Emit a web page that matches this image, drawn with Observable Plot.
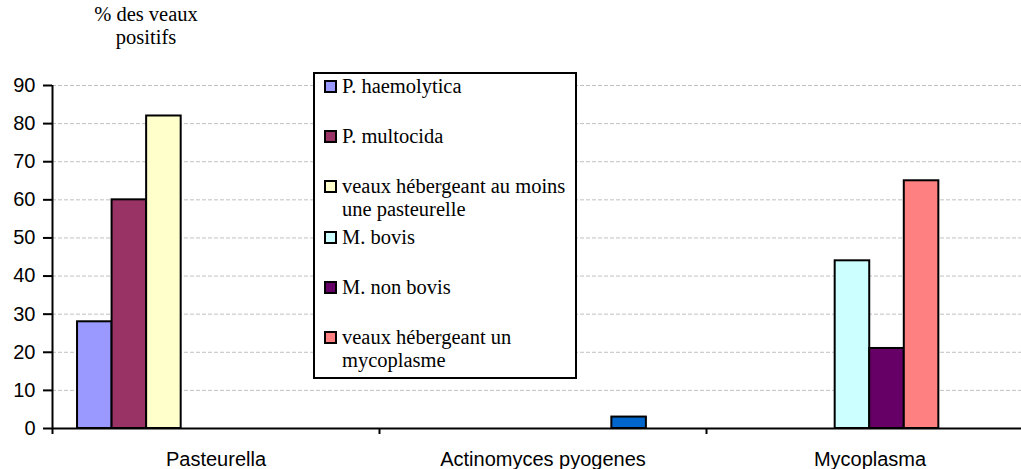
<!DOCTYPE html>
<html>
<head>
<meta charset="utf-8">
<script src="https://cdn.jsdelivr.net/npm/d3@7"></script>
<script src="https://cdn.jsdelivr.net/npm/@observablehq/plot@0.6"></script>
<style>
  html, body { margin: 0; padding: 0; background: #fff; overflow: hidden; }
  #wrap { position: relative; width: 1021px; height: 469px; overflow: hidden; }
  #title { position: absolute; left: 46px; top: 3px; width: 200px; text-align: center;
    font-family: "Liberation Serif", "Times New Roman", "DejaVu Serif", serif; font-size: 20.5px; line-height: 23px; color: #000; }
  #chart { position: absolute; left: 0; top: 55px; }
  #legend { position: absolute; left: 313px; top: 72px; width: 264px; height: 307px; box-sizing: border-box;
    border: 2px solid #000; background: #fff;
    font-family: "Liberation Serif", "Times New Roman", "DejaVu Serif", serif; font-size: 20.5px; line-height: 22.5px; color: #000; }
  .entry { position: absolute; left: 9px; width: 250px; display: flex; align-items: flex-start; }
  .sw { flex: none; width: 13px; height: 13px; box-sizing: border-box; border: 2px solid #000; margin-top: 5px; margin-right: 5px; }
  .lab { width: 232px; }
</style>
</head>
<body>
<div id="wrap">
  <div id="title">% des veaux<br>positifs</div>
  <div id="chart"></div>
  <div id="legend"></div>
</div>
<script>
// ---- data ----
const categories = ["Pasteurella", "Actinomyces pyogenes", "Mycoplasma"];
const seriesNames = [
  "P. haemolytica",
  "P. multocida",
  "veaux hébergeant au moins une pasteurelle",
  "M. bovis",
  "M. non bovis",
  "veaux hébergeant un mycoplasme",
  "A. pyogenes"
];
const seriesColors = ["#9999FF", "#993366", "#FFFFCC", "#CCFFFF", "#660066", "#FF8080", "#0066CC"];
const legendSeries = seriesNames.slice(0, 6);
// values per series, one per category (null = no bar)
const pHaemolytica   = [28, null, null];
const pMultocida     = [60, null, null];
const auMoinsPast    = [82, null, null];
const mBovis         = [null, null, 44];
const mNonBovis      = [null, null, 21];
const auMoinsMyco    = [null, null, 65];
const aPyogenes      = [null, 3, null];
const seriesValues = [pHaemolytica, pMultocida, auMoinsPast, mBovis, mNonBovis, auMoinsMyco, aPyogenes];
const yTicks = [0, 10, 20, 30, 40, 50, 60, 70, 80, 90];

// ---- layout within each category (clustered bars) ----
const slot = d3.scaleBand(seriesNames, [0, 1]).paddingInner(0).paddingOuter(1.232).align(0.294);

const rows = [];
seriesNames.forEach((s, si) => {
  seriesValues[si].forEach((v, ci) => {
    if (v != null) rows.push({series: s, category: categories[ci], value: v,
      x1: ci + slot(s), x2: ci + slot(s) + slot.bandwidth()});
  });
});

const boundaries = d3.range(categories.length + 1);
const centers = categories.map((c, i) => i + 0.5);

const plot = Plot.plot({
  width: 1021,
  height: 414,
  marginLeft: 52,
  marginRight: -12,
  marginTop: 30,
  marginBottom: 41,
  style: {fontFamily: "'Liberation Sans', Arial, sans-serif", fontSize: "20px", color: "#000", background: "#fff", overflow: "hidden"},
  x: {type: "linear", domain: [0, categories.length], axis: null, label: null},
  y: {domain: [0, d3.max(yTicks)], axis: null, label: null},
  color: {domain: seriesNames, range: seriesColors},
  marks: [
    Plot.ruleY(yTicks.filter(d => d > 0), {stroke: "#c0c0c0", strokeWidth: 1, strokeDasharray: "4,2"}),
    Plot.rect(rows, {x1: "x1", x2: "x2", y1: 0, y2: "value", fill: "series", stroke: "#000", strokeWidth: 2}),
    Plot.ruleX([0], {y1: 0, y2: d3.max(yTicks), stroke: "#000", strokeWidth: 2}),
    Plot.ruleY([0], {stroke: "#000", strokeWidth: 2}),
    Plot.axisY(yTicks, {anchor: "left", label: null, tickSize: 9, tickPadding: 8, fontSize: 20, stroke: "#000", strokeWidth: 2}),
    Plot.axisX(boundaries, {anchor: "bottom", label: null, tickSize: 6, tickFormat: () => "", stroke: "#000", strokeWidth: 2}),
    Plot.axisX(centers, {anchor: "bottom", label: null, tickSize: 0, tickPadding: 23, fontSize: 20,
      tickFormat: d => categories[Math.floor(d)]})
  ]
});
document.getElementById("chart").appendChild(plot);

// ---- legend ----
const legend = document.getElementById("legend");
legendSeries.forEach((s, i) => {
  const e = document.createElement("div");
  e.className = "entry";
  e.style.top = (1 + i * 50.2) + "px";
  const sw = document.createElement("div");
  sw.className = "sw";
  sw.style.background = seriesColors[seriesNames.indexOf(s)];
  const lab = document.createElement("div");
  lab.className = "lab";
  lab.textContent = s;
  e.appendChild(sw); e.appendChild(lab);
  legend.appendChild(e);
});
</script>
</body>
</html>
